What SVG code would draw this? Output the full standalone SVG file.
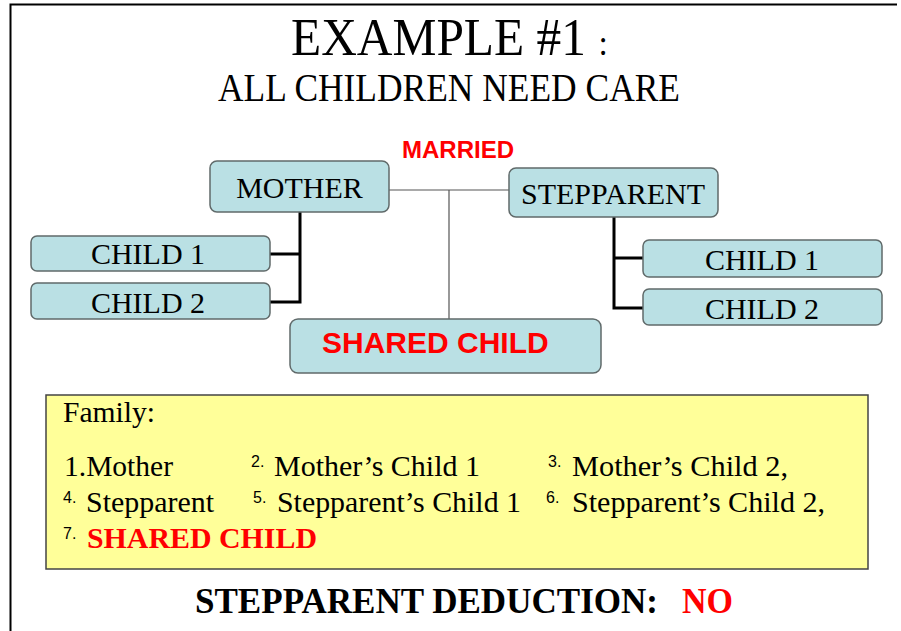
<svg xmlns="http://www.w3.org/2000/svg" width="901" height="631" viewBox="0 0 901 631">
<style>
.node{fill:#BAE0E4;stroke:#606a6a;stroke-width:1.5}
.t{font-family:"Liberation Serif","Times New Roman",serif;fill:#000}
.nt{font-family:"Liberation Serif","Times New Roman",serif;font-size:30px;fill:#000;text-anchor:middle}
.ar{font-family:"Liberation Sans",Arial,sans-serif;font-weight:bold;fill:#FF0000}
.sup{font-family:"Liberation Sans",Arial,sans-serif;font-size:16px;fill:#000}
.li{font-family:"Liberation Serif","Times New Roman",serif;font-size:29px;fill:#000}
.thin{stroke:#555;stroke-width:1.2;fill:none}
.thick{stroke:#000;stroke-width:3;fill:none}
.red{fill:#FF0000}
</style>
<rect width="901" height="631" fill="#fff"/>
<path d="M10.5 631 V4.5 H897" fill="none" stroke="#000" stroke-width="2"/>
<g id="title">
<text class="t" transform="translate(291,55) scale(0.932,1)" x="0" y="0" font-size="53">EXAMPLE #1<tspan x="330" font-size="36">:</tspan></text>
<text class="t" x="218" y="101" font-size="39" textLength="462" lengthAdjust="spacingAndGlyphs">ALL CHILDREN NEED CARE</text>
</g>
<g id="connectors">
<path class="thin" d="M389 190 H509 M449 190 V319"/>
<path class="thick" d="M300 212 V302 H270 M270 254 H300"/>
<path class="thick" d="M614 217 V308 H643 M614 258 H643"/>
</g>
<g id="married"><text class="ar" x="402" y="158" font-size="24">MARRIED</text></g>
<g id="mother"><rect class="node" x="210" y="161" width="179" height="51" rx="7"/><text class="nt" x="299.5" y="198">MOTHER</text></g>
<g id="stepparent"><rect class="node" x="509" y="168" width="209" height="49" rx="7"/><text class="nt" x="613" y="204">STEPPARENT</text></g>
<g id="m-child1"><rect class="node" x="31" y="236" width="239" height="35" rx="6"/><text class="nt" x="148" y="264" font-size="29">CHILD 1</text></g>
<g id="m-child2"><rect class="node" x="31" y="283" width="239" height="36" rx="6"/><text class="nt" x="148" y="313" font-size="29">CHILD 2</text></g>
<g id="s-child1"><rect class="node" x="643" y="240" width="239" height="37" rx="6"/><text class="nt" x="762" y="270" font-size="29">CHILD 1</text></g>
<g id="s-child2"><rect class="node" x="643" y="289" width="239" height="36" rx="6"/><text class="nt" x="762" y="319" font-size="29">CHILD 2</text></g>
<g id="shared-child"><rect class="node" x="290" y="319" width="311" height="54" rx="8"/><text class="ar" x="322" y="353" font-size="30">SHARED CHILD</text></g>
<g id="family-box">
<rect x="46" y="395" width="822" height="174" fill="#FFFF99" stroke="#444" stroke-width="1.5"/>
<text class="li" x="63" y="422" textLength="92" lengthAdjust="spacingAndGlyphs">Family:</text>
<text class="li" x="64" y="476" textLength="109" lengthAdjust="spacingAndGlyphs">1.Mother</text>
<text class="sup" x="251" y="467">2.</text><text class="li" x="274" y="476" textLength="206" lengthAdjust="spacingAndGlyphs">Mother’s Child 1</text>
<text class="sup" x="548" y="467">3.</text><text class="li" x="572" y="476" textLength="216" lengthAdjust="spacingAndGlyphs">Mother’s Child 2,</text>
<text class="sup" x="63" y="503">4.</text><text class="li" x="86" y="512" textLength="128" lengthAdjust="spacingAndGlyphs">Stepparent</text>
<text class="sup" x="253" y="503">5.</text><text class="li" x="277" y="512" textLength="244" lengthAdjust="spacingAndGlyphs">Stepparent’s Child 1</text>
<text class="sup" x="546" y="503">6.</text><text class="li" x="572" y="512" textLength="253" lengthAdjust="spacingAndGlyphs">Stepparent’s Child 2,</text>
<text class="sup" x="63" y="539">7.</text><text x="87" y="548" font-family="Liberation Serif, Times New Roman, serif" font-size="29" font-weight="bold" fill="#FF0000" textLength="230" lengthAdjust="spacingAndGlyphs">SHARED CHILD</text>
</g>
<g id="deduction">
<text class="t" x="195" y="613" font-size="36" font-weight="bold" textLength="463" lengthAdjust="spacingAndGlyphs">STEPPARENT DEDUCTION:</text>
<text x="682" y="613" font-family="Liberation Serif, Times New Roman, serif" font-size="36" font-weight="bold" fill="#FF0000" textLength="51" lengthAdjust="spacingAndGlyphs">NO</text>
</g>
</svg>
